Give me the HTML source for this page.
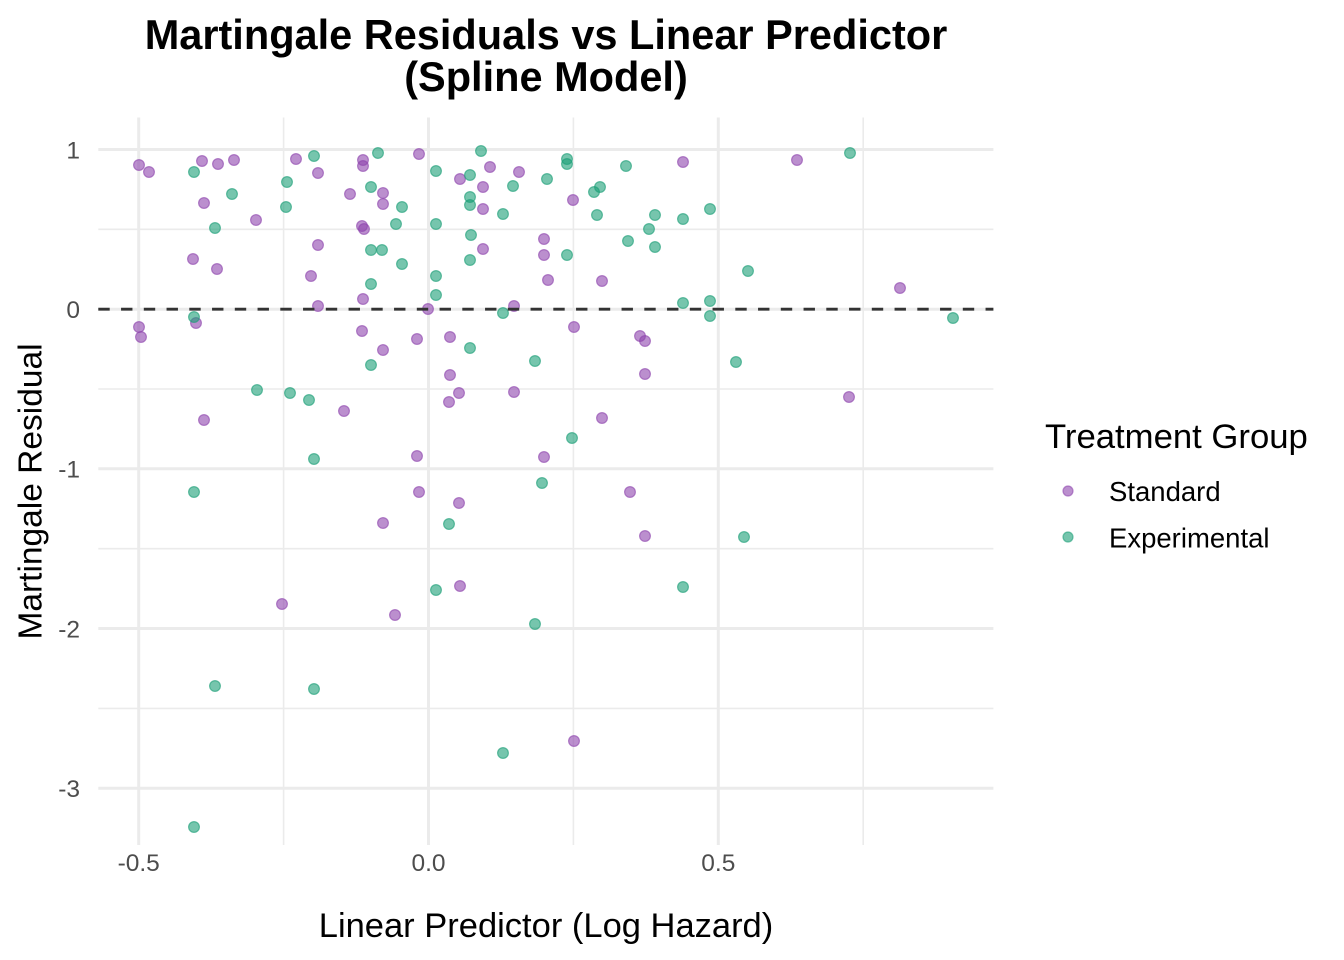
<!DOCTYPE html>
<html>
<head>
<meta charset="utf-8">
<style>
html,body{margin:0;padding:0;background:#fff;}
svg{display:block;}
text{font-family:"Liberation Sans",Arial,Helvetica,sans-serif;}
</style>
</head>
<body>
<svg width="1344" height="960" viewBox="0 0 1344 960" xmlns="http://www.w3.org/2000/svg">
<rect x="0" y="0" width="1344" height="960" fill="#ffffff"/>
<g stroke="#ebebeb" stroke-width="1.6" fill="none">
<line x1="98.3" x2="993.4" y1="229.3" y2="229.3"/>
<line x1="98.3" x2="993.4" y1="389" y2="389"/>
<line x1="98.3" x2="993.4" y1="548.7" y2="548.7"/>
<line x1="98.3" x2="993.4" y1="708.4" y2="708.4"/>
<line x1="283.6" x2="283.6" y1="117.5" y2="845"/>
<line x1="573.4" x2="573.4" y1="117.5" y2="845"/>
<line x1="863.2" x2="863.2" y1="117.5" y2="845"/>
</g>
<g stroke="#ebebeb" stroke-width="3" fill="none">
<line x1="98.3" x2="993.4" y1="149.5" y2="149.5"/>
<line x1="98.3" x2="993.4" y1="309.2" y2="309.2"/>
<line x1="98.3" x2="993.4" y1="468.8" y2="468.8"/>
<line x1="98.3" x2="993.4" y1="628.5" y2="628.5"/>
<line x1="98.3" x2="993.4" y1="788.3" y2="788.3"/>
<line x1="138.7" x2="138.7" y1="117.5" y2="845"/>
<line x1="428.5" x2="428.5" y1="117.5" y2="845"/>
<line x1="718.3" x2="718.3" y1="117.5" y2="845"/>
</g>
<g fill="#8E44AD" fill-opacity="0.6" stroke="#8E44AD" stroke-opacity="0.6" stroke-width="1.2">
<circle cx="139" cy="165" r="5.4"/>
<circle cx="149" cy="172" r="5.4"/>
<circle cx="202" cy="161" r="5.4"/>
<circle cx="218" cy="164" r="5.4"/>
<circle cx="234" cy="160" r="5.4"/>
<circle cx="204" cy="203" r="5.4"/>
<circle cx="256" cy="220" r="5.4"/>
<circle cx="296" cy="159" r="5.4"/>
<circle cx="318" cy="173" r="5.4"/>
<circle cx="363" cy="160" r="5.4"/>
<circle cx="363" cy="166" r="5.4"/>
<circle cx="350" cy="194" r="5.4"/>
<circle cx="383" cy="193" r="5.4"/>
<circle cx="383" cy="204" r="5.4"/>
<circle cx="362" cy="226" r="5.4"/>
<circle cx="364" cy="229" r="5.4"/>
<circle cx="318" cy="245" r="5.4"/>
<circle cx="193" cy="259" r="5.4"/>
<circle cx="217" cy="269" r="5.4"/>
<circle cx="311" cy="276" r="5.4"/>
<circle cx="363" cy="299" r="5.4"/>
<circle cx="318" cy="306" r="5.4"/>
<circle cx="196" cy="323" r="5.4"/>
<circle cx="139" cy="327" r="5.4"/>
<circle cx="141" cy="337" r="5.4"/>
<circle cx="362" cy="331" r="5.4"/>
<circle cx="383" cy="350" r="5.4"/>
<circle cx="419" cy="154" r="5.4"/>
<circle cx="460" cy="179" r="5.4"/>
<circle cx="490" cy="167" r="5.4"/>
<circle cx="519" cy="172" r="5.4"/>
<circle cx="483" cy="187" r="5.4"/>
<circle cx="573" cy="200" r="5.4"/>
<circle cx="683" cy="162" r="5.4"/>
<circle cx="483" cy="209" r="5.4"/>
<circle cx="544" cy="239" r="5.4"/>
<circle cx="483" cy="249" r="5.4"/>
<circle cx="544" cy="255" r="5.4"/>
<circle cx="548" cy="280" r="5.4"/>
<circle cx="602" cy="281" r="5.4"/>
<circle cx="428" cy="309" r="5.4"/>
<circle cx="514" cy="306" r="5.4"/>
<circle cx="574" cy="327" r="5.4"/>
<circle cx="640" cy="336" r="5.4"/>
<circle cx="645" cy="341" r="5.4"/>
<circle cx="417" cy="339" r="5.4"/>
<circle cx="450" cy="337" r="5.4"/>
<circle cx="797" cy="160" r="5.4"/>
<circle cx="900" cy="288" r="5.4"/>
<circle cx="344" cy="411" r="5.4"/>
<circle cx="204" cy="420" r="5.4"/>
<circle cx="383" cy="523" r="5.4"/>
<circle cx="282" cy="604" r="5.4"/>
<circle cx="395" cy="615" r="5.4"/>
<circle cx="450" cy="375" r="5.4"/>
<circle cx="645" cy="374" r="5.4"/>
<circle cx="459" cy="393" r="5.4"/>
<circle cx="449" cy="402" r="5.4"/>
<circle cx="514" cy="392" r="5.4"/>
<circle cx="602" cy="418" r="5.4"/>
<circle cx="417" cy="456" r="5.4"/>
<circle cx="544" cy="457" r="5.4"/>
<circle cx="419" cy="492" r="5.4"/>
<circle cx="630" cy="492" r="5.4"/>
<circle cx="459" cy="503" r="5.4"/>
<circle cx="645" cy="536" r="5.4"/>
<circle cx="460" cy="586" r="5.4"/>
<circle cx="849" cy="397" r="5.4"/>
<circle cx="574" cy="741" r="5.4"/>
</g>
<g fill="#1B9E77" fill-opacity="0.6" stroke="#1B9E77" stroke-opacity="0.6" stroke-width="1.2">
<circle cx="194" cy="172" r="5.4"/>
<circle cx="232" cy="194" r="5.4"/>
<circle cx="215" cy="228" r="5.4"/>
<circle cx="314" cy="156" r="5.4"/>
<circle cx="287" cy="182" r="5.4"/>
<circle cx="286" cy="207" r="5.4"/>
<circle cx="378" cy="153" r="5.4"/>
<circle cx="371" cy="187" r="5.4"/>
<circle cx="402" cy="207" r="5.4"/>
<circle cx="396" cy="224" r="5.4"/>
<circle cx="371" cy="250" r="5.4"/>
<circle cx="382" cy="250" r="5.4"/>
<circle cx="402" cy="264" r="5.4"/>
<circle cx="371" cy="284" r="5.4"/>
<circle cx="194" cy="317" r="5.4"/>
<circle cx="371" cy="365" r="5.4"/>
<circle cx="481" cy="151" r="5.4"/>
<circle cx="436" cy="171" r="5.4"/>
<circle cx="470" cy="175" r="5.4"/>
<circle cx="513" cy="186" r="5.4"/>
<circle cx="547" cy="179" r="5.4"/>
<circle cx="567" cy="159" r="5.4"/>
<circle cx="567" cy="164" r="5.4"/>
<circle cx="594" cy="192" r="5.4"/>
<circle cx="600" cy="187" r="5.4"/>
<circle cx="626" cy="166" r="5.4"/>
<circle cx="470" cy="197" r="5.4"/>
<circle cx="470" cy="205" r="5.4"/>
<circle cx="503" cy="214" r="5.4"/>
<circle cx="597" cy="215" r="5.4"/>
<circle cx="655" cy="215" r="5.4"/>
<circle cx="683" cy="219" r="5.4"/>
<circle cx="436" cy="224" r="5.4"/>
<circle cx="471" cy="235" r="5.4"/>
<circle cx="649" cy="229" r="5.4"/>
<circle cx="628" cy="241" r="5.4"/>
<circle cx="655" cy="247" r="5.4"/>
<circle cx="567" cy="255" r="5.4"/>
<circle cx="470" cy="260" r="5.4"/>
<circle cx="436" cy="276" r="5.4"/>
<circle cx="436" cy="295" r="5.4"/>
<circle cx="683" cy="303" r="5.4"/>
<circle cx="503" cy="313" r="5.4"/>
<circle cx="470" cy="348" r="5.4"/>
<circle cx="535" cy="361" r="5.4"/>
<circle cx="850" cy="153" r="5.4"/>
<circle cx="710" cy="209" r="5.4"/>
<circle cx="748" cy="271" r="5.4"/>
<circle cx="710" cy="301" r="5.4"/>
<circle cx="710" cy="316" r="5.4"/>
<circle cx="953" cy="318" r="5.4"/>
<circle cx="736" cy="362" r="5.4"/>
<circle cx="257" cy="390" r="5.4"/>
<circle cx="290" cy="393" r="5.4"/>
<circle cx="309" cy="400" r="5.4"/>
<circle cx="314" cy="459" r="5.4"/>
<circle cx="194" cy="492" r="5.4"/>
<circle cx="572" cy="438" r="5.4"/>
<circle cx="542" cy="483" r="5.4"/>
<circle cx="449" cy="524" r="5.4"/>
<circle cx="436" cy="590" r="5.4"/>
<circle cx="683" cy="587" r="5.4"/>
<circle cx="744" cy="537" r="5.4"/>
<circle cx="215" cy="686" r="5.4"/>
<circle cx="314" cy="689" r="5.4"/>
<circle cx="194" cy="827" r="5.4"/>
<circle cx="535" cy="624" r="5.4"/>
<circle cx="503" cy="753" r="5.4"/>
</g>
<line x1="98.3" x2="993.4" y1="309.2" y2="309.2" stroke="#333333" stroke-width="2.8" stroke-dasharray="11.4 11.35"/>
<g font-size="24.5" fill="#4d4d4d" text-anchor="end">
<text x="80" y="158.3">1</text>
<text x="80" y="318">0</text>
<text x="80" y="477.6">-1</text>
<text x="80" y="637.3">-2</text>
<text x="80" y="797.1">-3</text>
</g>
<g font-size="24.5" fill="#4d4d4d" text-anchor="middle">
<text x="138.7" y="871">-0.5</text>
<text x="428.5" y="871">0.0</text>
<text x="718.3" y="871">0.5</text>
</g>
<text x="546" y="937" font-size="34.5" fill="#000" text-anchor="middle">Linear Predictor (Log Hazard)</text>
<text transform="translate(41.7,491.5) rotate(-90)" font-size="33.5" fill="#000" text-anchor="middle">Martingale Residual</text>
<g font-size="41.5" font-weight="bold" fill="#000" text-anchor="middle">
<text x="546" y="49">Martingale Residuals vs Linear Predictor</text>
<text x="546" y="91">(Spline Model)</text>
</g>
<text x="1045" y="448" font-size="34.7" fill="#000">Treatment Group</text>
<circle cx="1068" cy="491" r="5" fill="#8E44AD" fill-opacity="0.6" stroke="#8E44AD" stroke-opacity="0.6" stroke-width="1.2"/>
<circle cx="1068" cy="537" r="5" fill="#1B9E77" fill-opacity="0.6" stroke="#1B9E77" stroke-opacity="0.6" stroke-width="1.2"/>
<text x="1109" y="501" font-size="27.5" fill="#000">Standard</text>
<text x="1109" y="547.5" font-size="27.5" fill="#000">Experimental</text>
</svg>
</body>
</html>
